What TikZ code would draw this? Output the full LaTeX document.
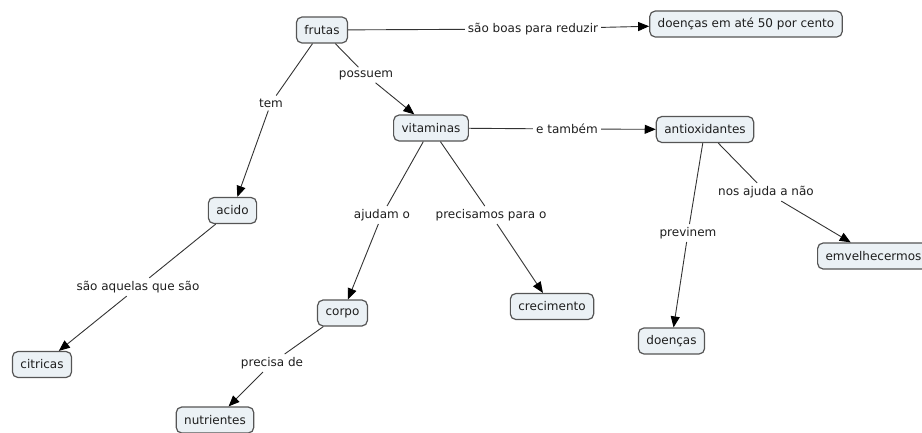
\documentclass[tikz,border=0pt]{standalone}
\usepackage{fontspec}
\setmainfont{DejaVu Sans}
\usetikzlibrary{arrows.meta}
\definecolor{boxfill}{HTML}{EBF1F5}
\definecolor{boxline}{HTML}{555555}
\definecolor{lnk}{HTML}{333333}
\definecolor{txt}{HTML}{1E1E1E}
\begin{document}
\begin{tikzpicture}[x=1pt,y=-1pt,
  concept/.style={draw=boxline,fill=boxfill,line width=1.2pt,rounded corners=5.5pt,
    inner xsep=8pt,inner ysep=0pt,minimum height=26pt,font=\fontsize{12}{14}\selectfont,text=txt},
  lbl/.style={inner sep=3pt,font=\fontsize{12}{14}\selectfont,text=txt},
  lk/.style={draw=lnk,line width=0.9pt},
  ar/.style={lk,-{Triangle[length=11pt,width=9pt,color=black]}}]
\useasboundingbox (0,0) rectangle (922,432);
% concepts
\node[concept] (frutas) at (322,30) {frutas};
\node[concept] (doen50) at (746,24) {doenças em até 50 por cento};
\node[concept] (vit) at (431,128) {vitaminas};
\node[concept] (antiox) at (705,129.5) {antioxidantes};
\node[concept] (acido) at (232.5,210.5) {acido};
\node[concept] (citr) at (42,364.5) {citricas};
\node[concept] (corpo) at (342.5,313) {corpo};
\node[concept] (crec) at (552,306.5) {crecimento};
\node[concept] (nutr) at (215,420) {nutrientes};
\node[concept] (doen) at (671.5,341) {doenças};
\node[concept,anchor=west] (emv) at (817,256) {emvelhecermos};
% labels
\node[lbl] (l1) at (533,29) {são boas para reduzir};
\node[lbl] (l2) at (567,129) {e também};
\node[lbl] (l3) at (366,75) {possuem};
\node[lbl] (l4) at (271,103) {tem};
\node[lbl] (l5) at (382,215) {ajudam o};
\node[lbl] (l6) at (491,215) {precisamos para o};
\node[lbl] (l7) at (138,287) {são aquelas que são};
\node[lbl] (l8) at (272,363) {precisa de};
\node[lbl] (l9) at (688,233) {previnem};
\node[lbl] (l10) at (766,192) {nos ajuda a não};
% connectors
\draw[lk] (frutas) -- (l1); \draw[ar] (l1) -- (doen50);
\draw[lk] (vit) -- (l2); \draw[ar] (l2) -- (antiox);
\draw[lk] (frutas) -- (l3); \draw[ar] (l3) -- (vit);
\draw[lk] (frutas) -- (l4); \draw[ar] (l4) -- (acido);
\draw[lk] (vit) -- (l5); \draw[ar] (l5) -- (corpo);
\draw[lk] (vit) -- (l6); \draw[ar] (l6) -- (crec);
\draw[lk] (acido) -- (l7); \draw[ar] (l7) -- (citr);
\draw[lk] (corpo) -- (l8); \draw[ar] (l8) -- (nutr);
\draw[lk] (antiox) -- (l9); \draw[ar] (l9) -- (doen);
\draw[lk] (antiox) -- (l10); \draw[ar] (l10) -- (emv);
\end{tikzpicture}
\end{document}
